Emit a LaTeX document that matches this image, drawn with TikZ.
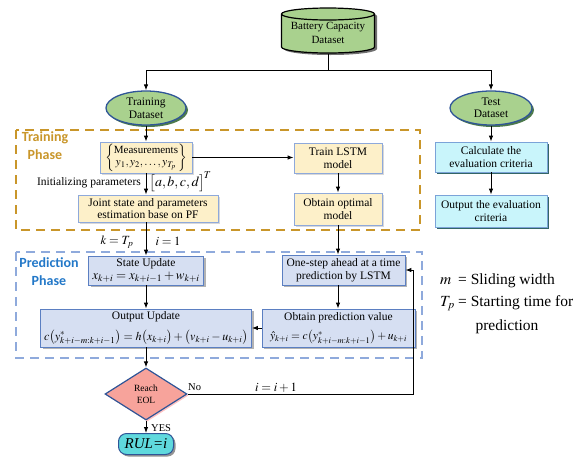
\documentclass[tikz,border=0pt]{standalone}
\usepackage{amsmath}
\IfFileExists{mathptmx.sty}{\usepackage{mathptmx}}{}
\usepackage[no-math]{fontspec}
\setmainfont{Liberation Serif}
\newfontfamily\phasefont{Carlito}
\usetikzlibrary{shapes.geometric,shadows,arrows.meta}
\definecolor{ygfill}{HTML}{FDF0C9}
\definecolor{ygdraw}{HTML}{8EA9DB}
\definecolor{blfill}{HTML}{D6DFF2}
\definecolor{bldraw}{HTML}{5B7FC2}
\definecolor{cyfill}{HTML}{C9F5FB}
\definecolor{cydraw}{HTML}{7BA3D8}
\definecolor{grfill}{HTML}{A9D18E}
\definecolor{eldraw}{HTML}{2F5597}
\definecolor{dmfill}{HTML}{F7A39B}
\definecolor{rulfill}{HTML}{5FD9DD}
\definecolor{orng}{HTML}{C9962A}
\definecolor{bldash}{HTML}{8FAADC}
\definecolor{bltext}{HTML}{2378C8}
\tikzset{
  box/.style={draw, rectangle, inner sep=1pt, align=center, line width=0.8pt,
    font=\fontsize{11.5}{12.5}\selectfont},
  ybox/.style={box, fill=ygfill, draw=ygdraw,
    drop shadow={shadow xshift=2pt, shadow yshift=-2pt, fill=black!30, opacity=0.5}},
  bbox/.style={box, fill=blfill, draw=bldraw,
    drop shadow={shadow xshift=2pt, shadow yshift=-2pt, fill=black!50, opacity=0.6}},
  cbox/.style={box, fill=cyfill, draw=cydraw,
    drop shadow={shadow xshift=2pt, shadow yshift=-2pt, fill=teal!50!black, opacity=0.8}},
  ell/.style={ellipse, draw=eldraw, line width=1.3pt, fill=grfill, inner sep=0pt, align=center,
    font=\fontsize{11.5}{12.5}\selectfont,
    drop shadow={shadow xshift=2pt, shadow yshift=-2pt, fill=green!25!black, opacity=0.7}},
  arr/.style={-{Latex[length=6pt,width=4.5pt]}, line width=0.9pt},
  ln/.style={line width=0.9pt},
  phase/.style={line width=1.6pt, dash pattern=on 9pt off 6pt},
  lbl/.style={inner sep=0pt, font=\fontsize{12.5}{13}\selectfont},
  leg/.style={inner sep=0pt, font=\fontsize{15.5}{16}\selectfont},
  phtxt/.style={inner sep=0pt, align=center, font=\phasefont\bfseries\fontsize{14}{18}\selectfont}
}
\begin{document}
\begin{tikzpicture}[x=1pt,y=-1pt]
\useasboundingbox (0,0) rectangle (573,456);
% phase frames
\draw[phase, draw=orng] (16,130) rectangle (420,230);
\draw[phase, draw=bldash] (16,252) rectangle (422,358);
\node[phtxt, text=orng] (trph) at (45,146) {Training\\Phase};
\node[phtxt, text=bltext] (prph) at (49,272) {Prediction\\Phase};
% cylinder
\fill[black!70, opacity=0.8] (284,16) -- (284,49) arc[start angle=180,end angle=0,x radius=46.5,y radius=6]
  -- (377,16) arc[start angle=360,end angle=180,x radius=46.5,y radius=6] -- cycle;
\draw[fill=grfill, line width=1.2pt] (281.5,14) -- (281.5,47) arc[start angle=180,end angle=0,x radius=46.5,y radius=6]
  -- (374.5,14) arc[start angle=360,end angle=180,x radius=46.5,y radius=6] -- cycle;
\draw[line width=1.2pt] (281.5,14) arc[start angle=180,end angle=0,x radius=46.5,y radius=6];
\node[inner sep=0pt, minimum width=93pt, minimum height=45pt, align=center,
  font=\fontsize{11}{14}\selectfont] (cyl) at (328,31) {\\[-2pt]Battery Capacity\\Dataset};
\coordinate (sp) at (328,70);
\coordinate (spl) at (146,70);
\coordinate (spr) at (491,70);
% ellipses
\node[ell, minimum width=80pt, minimum height=34pt] (train) at (146,108) {Training\\Dataset};
\node[ell, minimum width=82pt, minimum height=34pt] (test) at (491,108) {Test\\Dataset};
% training phase boxes
\node[ybox, minimum width=92pt, minimum height=31pt] (meas) at (146,157.5)
  {$\left\{\begin{array}{@{}c@{}}\text{\fontsize{11}{11}\selectfont Measurements}\\[-1pt] \fontsize{13}{13}\selectfont y_1,y_2,\ldots,y_{T_p}\end{array}\right\}$};
\node[ybox, minimum width=88pt, minimum height=30pt] (lstm) at (338,158) {Train LSTM\\model};
\node[ybox, minimum width=88pt, minimum height=32pt] (opt) at (338,209) {Obtain optimal\\model};
\node[ybox, minimum width=140pt, minimum height=27pt] (joint) at (148,208.5) {Joint state and parameters\\estimation base on PF};
\node[inner sep=0pt, anchor=east, font=\fontsize{11.5}{12}\selectfont] (init) at (141,183) {Initializing parameters};
\node[inner sep=0pt, anchor=west, font=\fontsize{14}{15}\selectfont] (abcd) at (149,182) {$\bigl[a,b,c,d\bigr]^{\!T}$};
% test boxes
\node[cbox, minimum width=112pt, minimum height=30pt] (calc) at (491,157) {Calculate the\\evaluation criteria};
\node[cbox, minimum width=112pt, minimum height=32pt] (outeval) at (491,211) {Output the evaluation\\criteria};
% prediction boxes
\node[bbox, minimum width=115pt, minimum height=29pt] (state) at (146,270.5)
  {State Update\\[0pt] {\fontsize{13}{13}\selectfont $x_{k+i}=x_{k+i-1}+w_{k+i}$}};
\node[bbox, minimum width=211pt, minimum height=38pt] (outupd) at (146,328)
  {Output Update\\[7pt] {\fontsize{12}{12}\selectfont $c\bigl(y^{*}_{k+i-m:k+i-1}\bigr)=h\bigl(x_{k+i}\bigr)+\bigl(v_{k+i}-u_{k+i}\bigr)$}};
\node[bbox, minimum width=123pt, minimum height=30pt] (onestep) at (343.5,270) {One-step ahead at a time\\prediction by LSTM};
\node[bbox, minimum width=153pt, minimum height=38pt] (predval) at (338.5,328)
  {Obtain prediction value\\[7pt] {\fontsize{11.5}{11.5}\selectfont $\hat{y}_{k+i}=c\bigl(y^{*}_{k+i-m:k+i-1}\bigr)+u_{k+i}$}};
\node[lbl] (kt) at (117,242) {$k=T_p$};
\node[lbl] (i1) at (168,241) {$i=1$};
% decision
\node[diamond, draw=eldraw, line width=1.2pt, fill=dmfill, minimum width=82pt, minimum height=52pt,
  inner sep=0pt, align=center, font=\fontsize{9.5}{11.5}\selectfont,
  drop shadow={shadow xshift=1.5pt, shadow yshift=-1.5pt, fill=red!40, opacity=0.6}] (dia) at (146,394) {Reach\\EOL};
\node[rectangle, rounded corners=8pt, draw=eldraw, line width=1pt, fill=rulfill,
  minimum width=55pt, minimum height=21pt, inner sep=0pt, font=\fontsize{15}{15}\selectfont\itshape,
  drop shadow={shadow xshift=2pt, shadow yshift=-2pt, fill=black!60, opacity=0.7}] (rul) at (146,444) {RUL=i};
\node[inner sep=0pt, anchor=west, font=\fontsize{10.5}{11}\selectfont] (no) at (188,387) {No};
\node[inner sep=0pt, anchor=west, font=\fontsize{10.5}{11}\selectfont] (yes) at (151,428) {YES};
\node[lbl] (inc) at (276,388) {$i=i+1$};
\coordinate (lp) at (413,394);
% legend
\node[leg, anchor=west] (leg1) at (440,281) {\makebox[18pt][l]{$m$}= Sliding width};
\node[leg, anchor=west] (leg2) at (440,303) {\makebox[18pt][l]{$T_p$}= Starting time for};
\node[leg] (leg3) at (507,327) {prediction};
% connectors
\draw[ln] (cyl.south) -- (sp);
\draw[arr] (sp) -- (spl) -- (train.north);
\draw[arr] (sp) -- (spr) -- (test.north);
\draw[arr] (train) -- (meas);
\draw[arr] (meas.east) -- (meas.east -| lstm.west);
\draw[arr] (lstm) -- (opt);
\draw[arr] (meas.south) -- (meas.south |- joint.north);
\draw[arr] (joint.south -| meas.south) -- (state.north -| meas.south);
\draw[arr] (opt.south) -- (opt.south |- onestep.north);
\draw[arr] (state) -- (outupd);
\draw[arr] (onestep.south -| opt.south) -- (predval.north -| opt.south);
\draw[arr] (predval.west) -- (outupd.east);
\draw[arr] (outupd.south) -- (dia.north);
\draw[arr] (dia) -- (rul);
\draw[arr] (dia.east) -- (lp) |- (onestep.east);
\draw[arr] (test) -- (calc);
\draw[arr] (calc) -- (outeval);
\end{tikzpicture}
\end{document}
